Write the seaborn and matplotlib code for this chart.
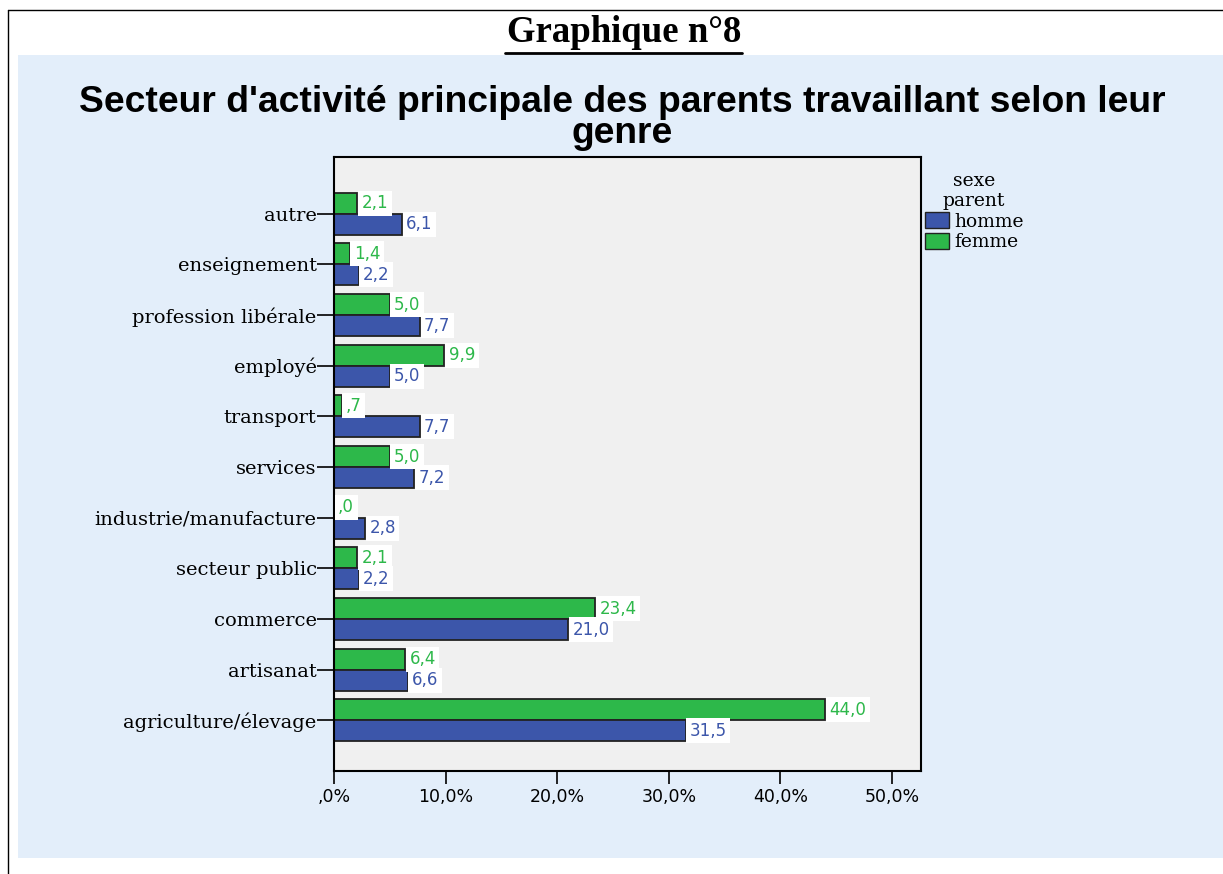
import numpy as np
import pandas as pd
import matplotlib.pyplot as plt
import seaborn as sns
from matplotlib.patches import Patch, Rectangle
from matplotlib.lines import Line2D

secteurs = ["autre", "enseignement", "profession libérale", "employé", "transport",
            "services", "industrie/manufacture", "secteur public", "commerce",
            "artisanat", "agriculture/élevage"]
homme = [6.1, 2.2, 7.7, 5.0, 7.7, 7.2, 2.8, 2.2, 21.0, 6.6, 31.5]
femme = [2.1, 1.4, 5.0, 9.9, 0.7, 5.0, 0.0, 2.1, 23.4, 6.4, 44.0]
xticks = [0, 10, 20, 30, 40, 50]
xlabels = [",0%", "10,0%", "20,0%", "30,0%", "40,0%", "50,0%"]

df = pd.DataFrame({
    "secteur": secteurs * 2,
    "sexe": ["homme"] * len(secteurs) + ["femme"] * len(secteurs),
    "pct": homme + femme,
})

bleu = "#3C56AA"
vert = "#2DB84A"

sns.set_style("white")
plt.rcParams["font.family"] = ["DejaVu Sans"]
plt.rcParams["text.color"] = "black"
plt.rcParams["xtick.color"] = "black"
plt.rcParams["ytick.color"] = "black"

W, H = 1223, 874
fig = plt.figure(figsize=(W / 100, H / 100), dpi=100)

# light blue panel behind the chart
fig.patches.append(Rectangle((18 / W, 1 - 858 / H), 1, (858 - 55) / H,
                             transform=fig.transFigure, facecolor="#E3EEFA",
                             edgecolor="none", zorder=-5))
# page frame
fig.add_artist(Line2D([8 / W, 8 / W], [0, 1 - 10 / H], transform=fig.transFigure,
                      color="black", lw=1))
fig.add_artist(Line2D([8 / W, 1], [1 - 10 / H, 1 - 10 / H], transform=fig.transFigure,
                      color="black", lw=1))

ax = fig.add_axes([334 / W, 1 - 771 / H, (921 - 334) / W, (771 - 157) / H])
sns.barplot(data=df, y="secteur", x="pct", hue="sexe", hue_order=["femme", "homme"],
            order=secteurs, palette={"homme": bleu, "femme": vert}, orient="h",
            width=0.83, saturation=1, edgecolor="#222222", linewidth=1.3, ax=ax,
            legend=False)
ax.set_facecolor("#F0F0F0")


def fmt(v):
    s = f"{v:.1f}".replace(".", ",")
    return s[1:] if s.startswith("0") else s


for cont, vals, col in zip(ax.containers, [femme, homme], [vert, bleu]):
    ax.bar_label(cont, labels=[fmt(v) for v in vals], padding=3, color=col, fontsize=12,
                 bbox=dict(facecolor="white", edgecolor="none", pad=2.5))

ax.set_xlim(0, 52.6)
ax.set_ylim(len(secteurs) - 1 + 1.0, -1.12)
ax.set_xticks(xticks)
ax.set_xticklabels(xlabels)
ax.set_xlabel("")
ax.set_ylabel("")
ax.tick_params(axis="x", bottom=True, length=9, width=1.2, labelsize=12.5, pad=3)
ax.tick_params(axis="y", left=True, length=12, width=1.2, labelsize=14, pad=0.5)
for lbl in ax.get_yticklabels():
    lbl.set_fontfamily("DejaVu Serif")
for sp in ax.spines.values():
    sp.set_visible(True)
    sp.set_color("black")
    sp.set_linewidth(1.5)

fig.text(624 / W, 1 - 33 / H, "Graphique n°8", ha="center", va="center",
         fontfamily="Liberation Serif", fontweight="bold", fontsize=26.5)
fig.add_artist(Line2D([505 / W, 742 / W], [1 - 53 / H, 1 - 53 / H],
                      transform=fig.transFigure, color="black", lw=2))

fig.text(622 / W, 1 - 118 / H,
         "Secteur d'activité principale des parents travaillant selon leur\ngenre",
         ha="center", va="center", fontfamily="Liberation Sans", fontweight="bold",
         fontsize=26.8, linespacing=0.82)

handles = [Patch(facecolor=bleu, edgecolor="#222222", label="homme"),
           Patch(facecolor=vert, edgecolor="#222222", label="femme")]
leg = fig.legend(handles=handles, title="sexe\nparent", loc="upper left",
                 bbox_to_anchor=(917 / W, 1 - 164 / H), frameon=False,
                 prop={"family": "DejaVu Serif", "size": 13.5},
                 title_fontproperties={"family": "DejaVu Serif", "size": 13.5},
                 handlelength=1.28, handleheight=0.96, handletextpad=0.3,
                 labelspacing=0.1, borderaxespad=0)
leg.get_title().set_multialignment("center")

fig.savefig("out.png", dpi=100)
